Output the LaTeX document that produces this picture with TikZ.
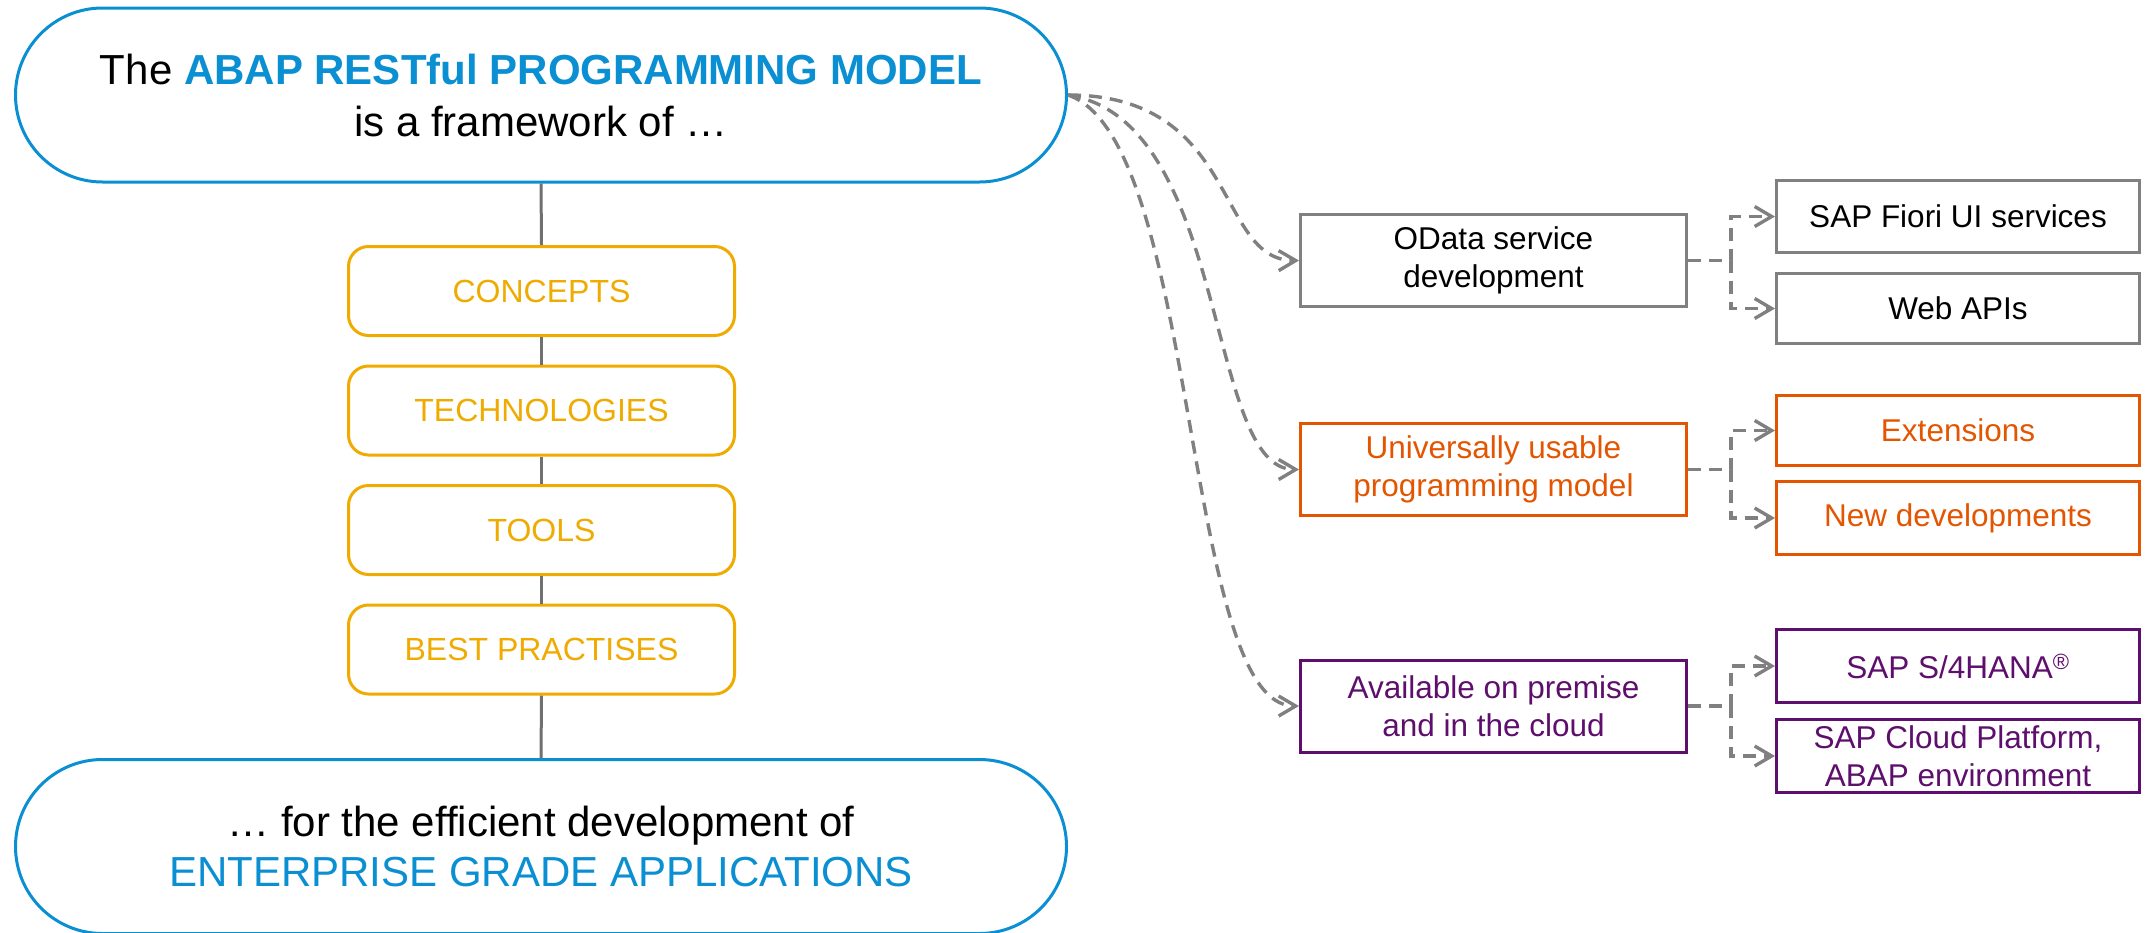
\documentclass[tikz,border=0pt]{standalone}
\usepackage{fontspec}
\setmainfont{Liberation Sans}
\usetikzlibrary{arrows.meta}
\definecolor{sapblue}{HTML}{0A8FD3}
\definecolor{sapgold}{HTML}{F0AB00}
\definecolor{saporange}{HTML}{E35500}
\definecolor{sappurple}{HTML}{5E0E6C}
\definecolor{lgrey}{HTML}{808080}
\definecolor{dgrey}{HTML}{707070}
\begin{document}
\begin{tikzpicture}[x=1pt,y=-1pt,
  pill/.style={draw=sapblue, line width=3pt, fill=white, rounded corners=87pt,
    minimum width=1051pt, minimum height=174pt, align=center, inner sep=0pt,
    font=\fontsize{42}{52}\selectfont},
  layerbox/.style={draw=sapgold, line width=3pt, rounded corners=20pt, fill=white,
    minimum width=386pt, minimum height=89pt, text=sapgold, inner sep=0pt,
    font=\fontsize{32}{38}\selectfont},
  mainbox/.style={line width=3pt, minimum width=386pt, minimum height=92pt,
    align=center, inner sep=0pt, font=\fontsize{31.5}{38}\selectfont},
  subbox/.style={line width=3pt, minimum width=363pt, minimum height=72pt,
    align=center, inner sep=0pt, font=\fontsize{31.5}{38}\selectfont},
  stem/.style={draw=dgrey, line width=3pt},
  dline/.style={draw=lgrey, line width=3.4pt, dash pattern=on 13pt off 8pt,
    -{Straight Barb[length=17pt,width=20pt]}},
]
\path[use as bounding box] (0,0) rectangle (2149,932);
\clip (0,0) rectangle (2149,932);

% left column
\node[pill] (top) at (541,95) {The \textcolor{sapblue}{\bfseries ABAP RESTful PROGRAMMING MODEL}\\is a framework of …};
\node[layerbox] (c1) at (541.5,291) {CONCEPTS};
\node[layerbox] (c2) at (541.5,410.5) {TECHNOLOGIES};
\node[layerbox] (c3) at (541.5,530) {TOOLS};
\node[layerbox] (c4) at (541.5,649.5) {BEST PRACTISES};
\node[pill, font=\fontsize{42}{50}\selectfont] (bot) at (541,846.5) {… for the efficient development of\\\textcolor{sapblue}{ENTERPRISE GRADE APPLICATIONS}};

\draw[stem] (top.south) -- (c1.north);
\draw[stem] (c1.south) -- (c2.north);
\draw[stem] (c2.south) -- (c3.north);
\draw[stem] (c3.south) -- (c4.north);
\draw[stem] (c4.south) -- (bot.north);

% middle column
\node[mainbox, draw=lgrey, text=black] (od) at (1493.5,260.5) {OData service\\development};
\node[mainbox, draw=saporange, text=saporange] (un) at (1493.5,469.5) {Universally usable\\programming model};
\node[mainbox, draw=sappurple, text=sappurple] (av) at (1493.5,706) {Available on premise\\and in the cloud};

% right column
\node[subbox, draw=lgrey, text=black] (fiori) at (1958,216.5) {SAP Fiori UI services};
\node[subbox, draw=lgrey, text=black, minimum height=70pt] (web) at (1958,308.5) {Web APIs};
\node[subbox, draw=saporange, text=saporange, minimum height=70pt] (ext) at (1958,430.5) {Extensions};
\node[subbox, draw=saporange, text=saporange, minimum height=73pt] (newd) at (1958,518) {New developments};
\node[subbox, draw=sappurple, text=sappurple, minimum height=73pt] (s4) at (1958,666) {SAP S/4HANA\textsuperscript{®}};
\node[subbox, draw=sappurple, text=sappurple, minimum height=73pt] (cloud) at (1958,756) {SAP Cloud Platform,\\ABAP environment};

% curved connectors
\draw[dline] (top.east) .. controls (1240,95) and (1215,261) .. (od.west);
\draw[dline] (top.east) .. controls (1230,120) and (1205,469.5) .. (un.west);
\draw[dline] (top.east) .. controls (1200,140) and (1182,706) .. (av.west);

% branching connectors
\draw[dline] (od.east) -- ++(43,0) |- (fiori.west);
\draw[dline] (od.east) -- ++(43,0) |- (web.west);
\draw[dline] (un.east) -- ++(43,0) |- (ext.west);
\draw[dline] (un.east) -- ++(43,0) |- (newd.west);
\draw[dline] (av.east) -- ++(43,0) |- (s4.west);
\draw[dline] (av.east) -- ++(43,0) |- (cloud.west);
\end{tikzpicture}
\end{document}
